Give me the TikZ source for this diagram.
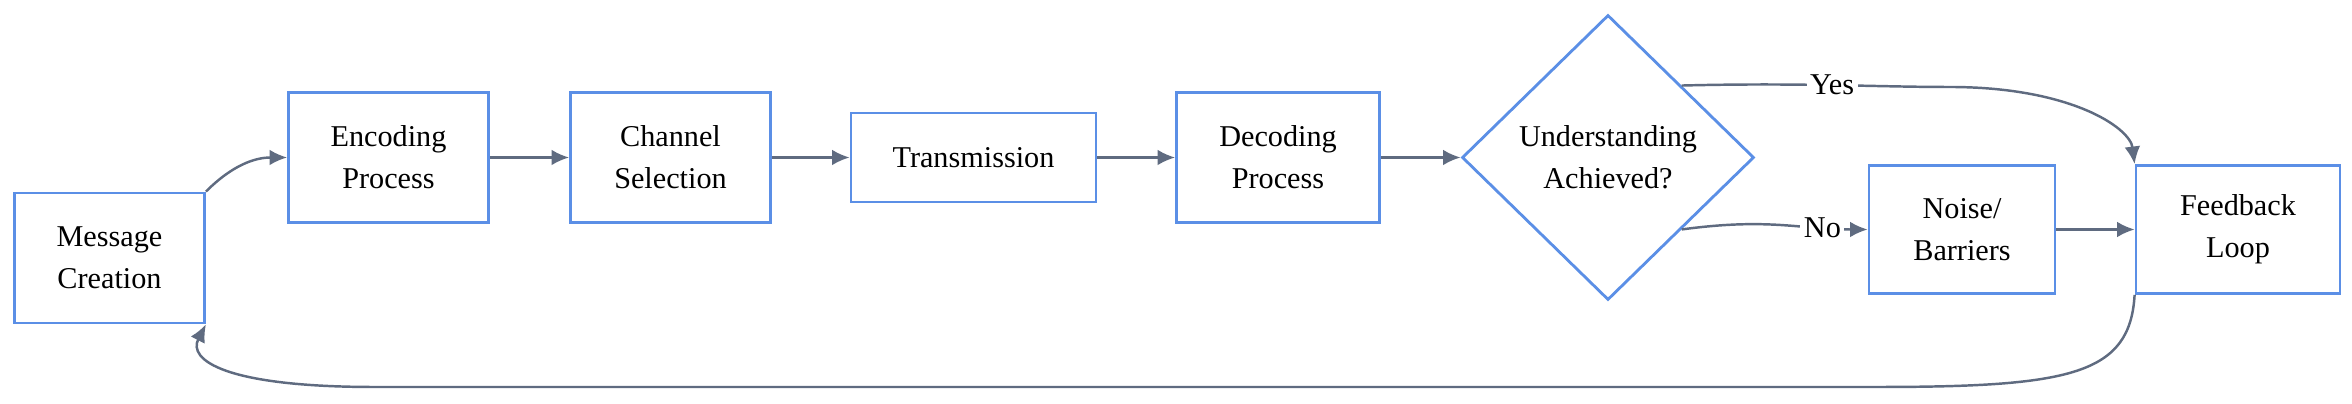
\documentclass[tikz,border=0pt]{standalone}
\usepackage{fontspec}
\setmainfont{Liberation Serif}
\usetikzlibrary{shapes.geometric,arrows.meta}
\definecolor{boxblue}{HTML}{5B8FE6}
\definecolor{arrowgray}{HTML}{5F6B80}
\begin{document}
\begin{tikzpicture}[x=0.015cm,y=-0.015cm,
	box/.style={draw=boxblue,line width=0.8pt,fill=white,align=center,font=\fontsize{8.6}{12}\selectfont,inner sep=0pt},
	flow/.style={draw=arrowgray,line width=0.7pt,-{Latex[length=5pt,width=4.5pt]}},
	lbl/.style={fill=white,font=\fontsize{8.6}{12}\selectfont,inner sep=1pt}]
		\useasboundingbox (0,0) rectangle (1568,269);
		
		%boxes
		\node[box,minimum width=1.9cm,minimum height=1.3cm](msg) at (73,172) {Message\\Creation};
		\node[box,minimum width=2.0cm,minimum height=1.3cm](enc) at (259,105) {Encoding\\Process};
		\node[box,minimum width=2.0cm,minimum height=1.3cm](chan) at (447,105) {Channel\\Selection};
		\node[box,minimum width=2.45cm,minimum height=0.89cm](trans) at (649,105) {Transmission};
		\node[box,minimum width=2.03cm,minimum height=1.3cm](dec) at (852,105) {Decoding\\Process};
		\node[box,diamond,minimum width=2.92cm,minimum height=2.85cm](und) at (1072,105) {Understanding\\Achieved?};
		\node[box,minimum width=1.86cm,minimum height=1.28cm](noise) at (1308,153) {Noise/\\Barriers};
		\node[box,minimum width=2.04cm,minimum height=1.28cm](fb) at (1492,153) {Feedback\\Loop};
		
		%arrows
		\draw[flow] (msg.north east) .. controls (155,110) and (170,105) .. (enc.west);
		\draw[flow] (enc) -- (chan);
		\draw[flow] (chan) -- (trans);
		\draw[flow] (trans) -- (dec);
		\draw[flow] (dec) -- (und);
		\draw[flow] (und.north east) .. controls (1200,55) and (1250,58) .. node[lbl,pos=0.5]{Yes} (1300,58) .. controls (1380,58) and (1420,85) .. (fb.north west);
		\draw[flow] (und.south east) .. controls (1180,145) and (1200,153) .. node[lbl,pos=0.75]{No} (noise.west);
		\draw[flow] (noise) -- (fb);
		\draw[flow] (fb.south west) .. controls (1420,250) and (1380,258) .. (1250,258) -- (250,258) .. controls (150,258) and (125,240) .. (msg.south east);
\end{tikzpicture}
\end{document}
